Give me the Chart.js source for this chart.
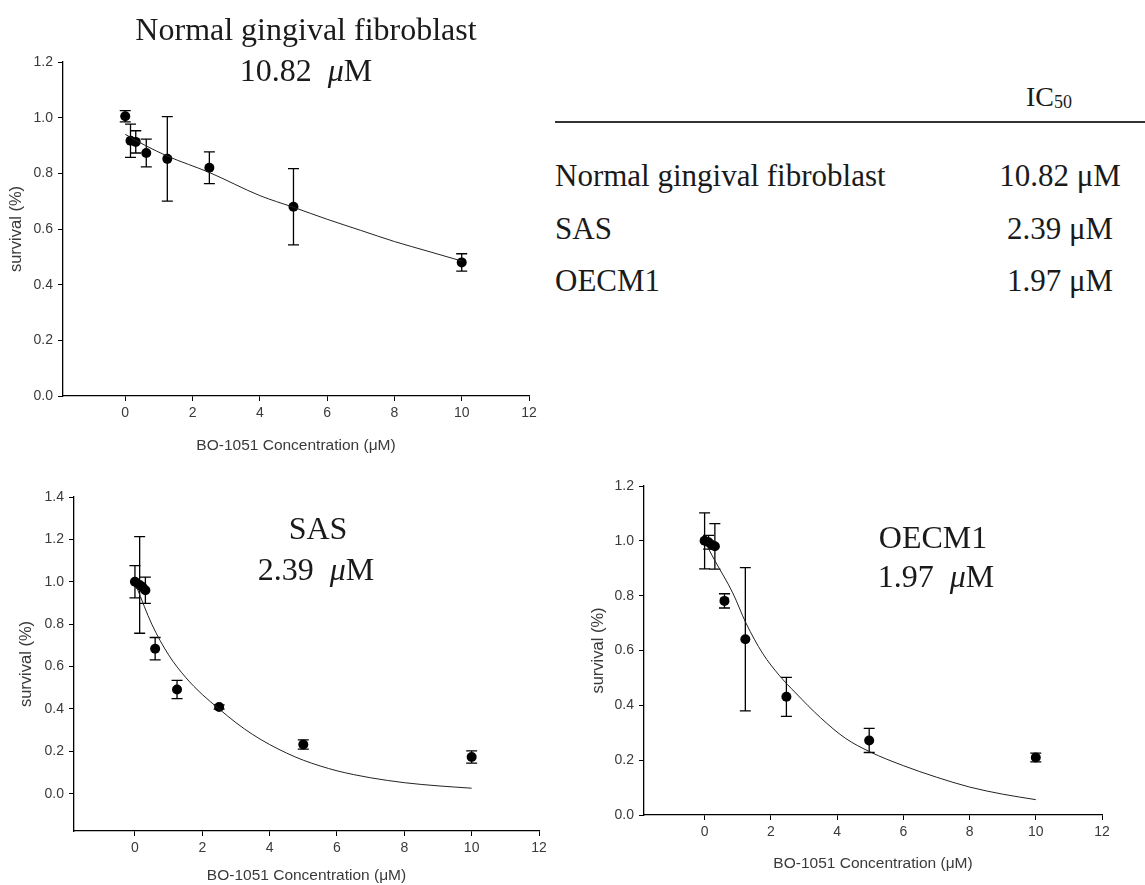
<!DOCTYPE html>
<html>
<head>
<meta charset="utf-8">
<script src="https://cdn.jsdelivr.net/npm/chart.js@4.4.1/dist/chart.umd.min.js"></script>
<style>
  body { margin: 0; background: #fff; }
  #page { position: relative; width: 1145px; height: 885px; overflow: hidden; background: #fff; }
  .box { position: absolute; }
  .txt { position: absolute; font-family: "Liberation Serif", "Times New Roman", serif; color: #1a1a1a;
         white-space: nowrap; line-height: 1; }
  .c { transform: translate(-50%, -50%); }
  .l { transform: translate(0, -50%); }
  #rule { position: absolute; left: 555px; top: 121px; width: 590px; height: 2px; background: #333; }
</style>
</head>
<body>
<div id="page">
  <div class="box" style="left:0;top:0"><canvas id="c1" width="545" height="470"></canvas></div>
  <div class="box" style="left:0;top:470px"><canvas id="c2" width="560" height="415"></canvas></div>
  <div class="box" style="left:575px;top:470px"><canvas id="c3" width="570" height="415"></canvas></div>
  <div id="rule"></div>
</div>
<script>
// x ticks shared by the three panels
const xTicks = [0, 2, 4, 6, 8, 10, 12];

// cell lines and their IC50 (µM)
const cellLines = ['Normal gingival fibroblast', 'SAS', 'OECM1'];
const ic50 = ['10.82', '2.39', '1.97'];

// normal gingival fibroblast
const concFibro = [0, 0.156, 0.3125, 0.625, 1.25, 2.5, 5, 10];
const survFibro = [1.005, 0.917, 0.913, 0.873, 0.852, 0.82, 0.68, 0.48];
const errFibro  = [0.02, 0.06, 0.04, 0.05, 0.152, 0.057, 0.137, 0.031];
const fitXFibro = [0, 0.6, 1.25, 2.5, 4, 5, 6, 7, 8, 9, 10];
const fitYFibro = [0.94, 0.90, 0.862, 0.803, 0.72, 0.678, 0.635, 0.595, 0.555, 0.52, 0.485];
const yTicksFibro = [0, 0.2, 0.4, 0.6, 0.8, 1.0, 1.2];

// SAS
const concSAS = [0, 0.14, 0.22, 0.31, 0.6, 1.25, 2.5, 5, 10];
const survSAS = [1.0, 0.985, 0.975, 0.96, 0.684, 0.492, 0.409, 0.232, 0.173];
const errSAS  = [0.076, 0.228, 0, 0.062, 0.053, 0.043, 0.01, 0.022, 0.029];
const fitXSAS = [0.05, 0.5, 1, 1.5, 2, 2.5, 3, 3.5, 4, 4.5, 5, 5.5, 6, 6.5, 7, 8, 9, 10];
const fitYSAS = [0.975, 0.80, 0.655, 0.55, 0.468, 0.40, 0.335, 0.279, 0.232, 0.192, 0.158, 0.131, 0.108, 0.09, 0.075, 0.052, 0.037, 0.026];
const yTicksSAS = [0, 0.2, 0.4, 0.6, 0.8, 1.0, 1.2, 1.4];

// OECM1
const concOECM = [0, 0.12, 0.22, 0.31, 0.6, 1.23, 2.47, 4.97, 10];
const survOECM = [1.0, 0.995, 0.985, 0.98, 0.781, 0.641, 0.431, 0.272, 0.21];
const errOECM  = [0.102, 0.025, 0, 0.083, 0.026, 0.261, 0.071, 0.044, 0.016];
const fitXOECM = [0.1, 0.3, 0.85, 1.25, 1.75, 2.25, 2.75, 3.5, 4.25, 5, 6, 7, 8, 9, 10];
const fitYOECM = [0.975, 0.93, 0.81, 0.70, 0.59, 0.51, 0.445, 0.355, 0.28, 0.23, 0.18, 0.138, 0.102, 0.076, 0.056];
const yTicksOECM = [0, 0.2, 0.4, 0.6, 0.8, 1.0, 1.2];

const sans = '"Liberation Sans", Arial, sans-serif';

// vertical error bars with caps, drawn from the dataset's errors array
const errorBars = {
  id: 'errorBars',
  beforeDatasetsDraw(chart) {
    const ds = chart.data.datasets.find(d => d.errors);
    if (!ds) return;
    const { ctx, scales: { x, y } } = chart;
    ctx.save();
    ctx.strokeStyle = '#000';
    ctx.lineWidth = 1.3;
    ds.data.forEach((p, i) => {
      const e = ds.errors[i];
      if (!e) return;
      const px = x.getPixelForValue(p.x);
      const top = y.getPixelForValue(p.y + e);
      const bot = y.getPixelForValue(p.y - e);
      ctx.beginPath();
      ctx.moveTo(px, top); ctx.lineTo(px, bot);
      ctx.moveTo(px - 5.5, top); ctx.lineTo(px + 5.5, top);
      ctx.moveTo(px - 5.5, bot); ctx.lineTo(px + 5.5, bot);
      ctx.stroke();
    });
    ctx.restore();
  }
};

function makePanel(id, o) {
  const pts = o.conc.map((c, i) => ({ x: c, y: o.surv[i] }));
  const fit = o.fitX.map((c, i) => ({ x: c, y: o.fitY[i] }));
  return new Chart(document.getElementById(id), {
    type: 'scatter',
    data: {
      datasets: [
        { data: fit, showLine: true, pointRadius: 0, borderColor: '#222', borderWidth: 1,
          cubicInterpolationMode: 'monotone', fill: false },
        { data: pts, errors: o.err, pointRadius: 5, pointBackgroundColor: '#000',
          pointBorderColor: '#000', pointBorderWidth: 0 }
      ]
    },
    options: {
      responsive: false,
      animation: false,
      events: [],
      layout: { padding: { top: o.padTop, right: o.padRight, left: 0, bottom: 0 } },
      plugins: { legend: { display: false }, tooltip: { enabled: false } },
      scales: {
        x: {
          type: 'linear', min: o.xMin, max: 12,
          afterBuildTicks: s => { s.ticks = xTicks.map(v => ({ value: v })); },
          afterFit: s => { s.height = o.xAxisH; },
          grid: { drawOnChartArea: false, drawTicks: true, tickLength: 5, color: '#000', lineWidth: 1 },
          border: { display: true, color: '#000', width: 1.3 },
          ticks: { autoSkip: false, maxRotation: 0, padding: 4, color: '#3a3a3a',
                   font: { family: sans, size: 14 }, callback: v => String(v) },
          title: { display: true, text: 'BO-1051 Concentration (μM)', color: '#3a3a3a',
                   font: { family: sans, size: 15.5 }, padding: { top: 0, bottom: o.xTitlePad } }
        },
        y: {
          type: 'linear', min: o.yMin, max: o.yMax,
          afterBuildTicks: s => { s.ticks = o.yTicks.map(v => ({ value: v })); },
          afterFit: s => { s.width = o.yAxisW; },
          grid: { drawOnChartArea: false, drawTicks: true, tickLength: 5, color: '#000', lineWidth: 1 },
          border: { display: true, color: '#000', width: 1.3 },
          ticks: { autoSkip: false, padding: 5, color: '#3a3a3a',
                   font: { family: sans, size: 14 }, callback: v => v.toFixed(1) },
          title: { display: true, text: 'survival (%)', color: '#3a3a3a',
                   font: { family: sans, size: 16.5 }, padding: { top: o.yTitlePad, bottom: 0 } }
        }
      }
    },
    plugins: [errorBars]
  });
}

makePanel('c1', {
  conc: concFibro, surv: survFibro, err: errFibro, fitX: fitXFibro, fitY: fitYFibro,
  yTicks: yTicksFibro, xMin: -1.85, yMin: 0, yMax: 1.2,
  padTop: 62, padRight: 16, yAxisW: 63, xAxisH: 74, xTitlePad: 15, yTitlePad: 7
});
makePanel('c2', {
  conc: concSAS, surv: survSAS, err: errSAS, fitX: fitXSAS, fitY: fitYSAS,
  yTicks: yTicksSAS, xMin: -1.81, yMin: -0.176, yMax: 1.4,
  padTop: 27, padRight: 21, yAxisW: 74, xAxisH: 54, xTitlePad: 0, yTitlePad: 17
});
makePanel('c3', {
  conc: concOECM, surv: survOECM, err: errOECM, fitX: fitXOECM, fitY: fitYOECM,
  yTicks: yTicksOECM, xMin: -1.83, yMin: 0, yMax: 1.2,
  padTop: 16, padRight: 43, yAxisW: 69, xAxisH: 70, xTitlePad: 12, yTitlePad: 14
});

// panel titles and IC50 table as text
const page = document.getElementById('page');
function addText(html, x, y, size, cls) {
  const d = document.createElement('div');
  d.className = 'txt ' + cls;
  d.style.left = x + 'px';
  d.style.top = y + 'px';
  d.style.fontSize = size + 'px';
  d.innerHTML = html;
  page.appendChild(d);
}
const titlePos = [[306, 29, 306, 70], [318, 528, 316, 569], [933, 537, 936, 576]];
cellLines.forEach((name, i) => {
  const [x1, y1, x2, y2] = titlePos[i];
  addText(name, x1, y1, 32, 'c');
  addText(ic50[i] + '&nbsp;&nbsp;<i>μ</i>M', x2, y2, 32, 'c');
});
addText('IC<sub style="font-size:18px;vertical-align:-2px">50</sub>', 1049, 97, 28, 'c');
const rowY = [175, 228, 280];
cellLines.forEach((name, i) => {
  addText(name, 555, rowY[i], 31, 'l');
  addText(ic50[i] + ' μM', 1060, rowY[i], 31, 'c');
});
</script>
</body>
</html>
